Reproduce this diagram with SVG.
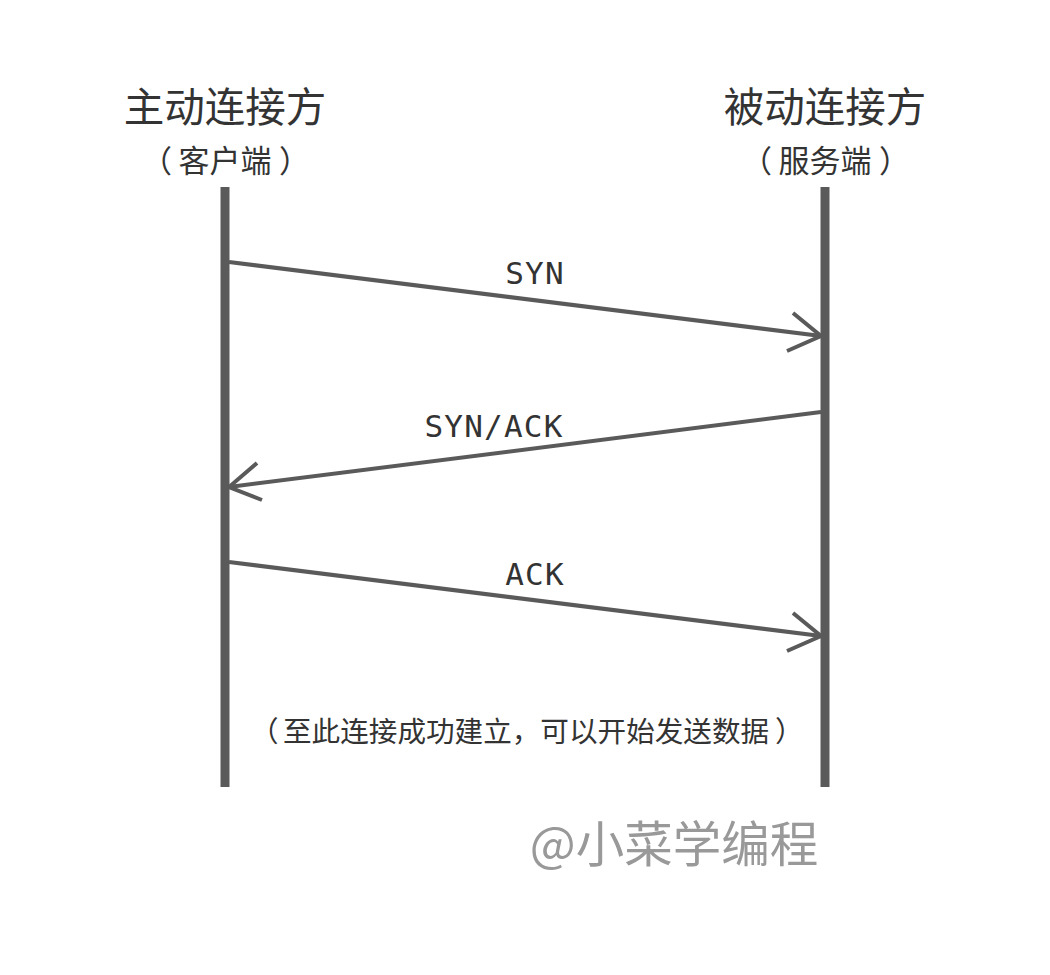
<svg xmlns="http://www.w3.org/2000/svg" width="1050" height="975" viewBox="0 0 1050 975">
  <style>
    .cjk { font-family: "Noto Sans CJK SC", "Noto Sans", sans-serif; fill: #333; }
    .title { font-size: 40.5px; text-anchor: middle; }
    .sub { font-size: 31px; }
    .note { font-size: 28.6px; }
    .msg { font-family: "DejaVu Sans Mono", "Liberation Mono", monospace; font-size: 31px; letter-spacing: 1.2px; fill: #333; text-anchor: middle; }
    .lifeline { stroke: #5a5a5a; stroke-width: 9; }
    .arrow { stroke: #5a5a5a; stroke-width: 4; fill: none; stroke-linecap: butt; stroke-linejoin: miter; }
  </style>
  <rect width="1050" height="975" fill="#fff"/>

  <g id="client">
    <text class="cjk title" x="225" y="122">主动连接方</text>
    <text class="cjk sub" y="172"><tspan x="141">（</tspan><tspan x="178.5">客户端</tspan><tspan x="279">）</tspan></text>
    <line class="lifeline" x1="225" y1="187" x2="225" y2="787"/>
  </g>

  <g id="server">
    <text class="cjk title" x="825" y="122">被动连接方</text>
    <text class="cjk sub" y="172"><tspan x="741">（</tspan><tspan x="778.5">服务端</tspan><tspan x="879">）</tspan></text>
    <line class="lifeline" x1="825" y1="187" x2="825" y2="787"/>
  </g>

  <g id="connectors">
    <!-- SYN: client to server -->
    <line class="arrow" x1="229" y1="262" x2="821" y2="336"/>
    <polyline class="arrow" points="793,313 821,336 787,351"/>
    <!-- SYN/ACK: server to client -->
    <line class="arrow" x1="821" y1="412" x2="229" y2="487"/>
    <polyline class="arrow" points="257,463 229,487 262,500"/>
    <!-- ACK: client to server -->
    <line class="arrow" x1="229" y1="562" x2="821" y2="636"/>
    <polyline class="arrow" points="793,613 821,636 787,651"/>
  </g>

  <g id="labels">
    <text class="msg" x="535" y="284">SYN</text>
    <text class="msg" x="494" y="437">SYN/ACK</text>
    <text class="msg" x="535" y="585">ACK</text>
  </g>

  <g id="note">
    <text class="cjk note" y="742"><tspan x="250">（</tspan><tspan x="283">至此连接成功建立，可以开始发送数据</tspan><tspan x="775">）</tspan></text>
  </g>

  <g id="watermark">
    <text x="674" y="862" font-family="Noto Sans CJK SC, Noto Sans, sans-serif" font-size="48.5" fill="#999" text-anchor="middle">@小菜学编程</text>
  </g>
</svg>
